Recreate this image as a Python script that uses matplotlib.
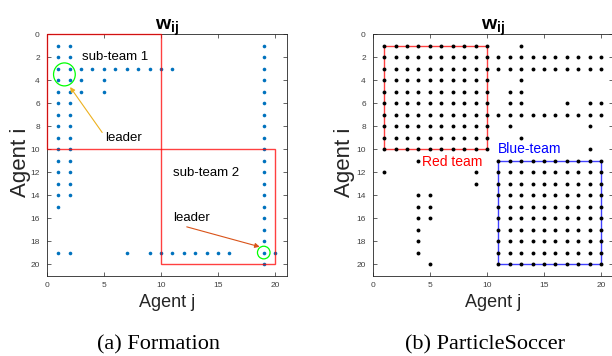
import matplotlib.pyplot as plt
from matplotlib.patches import Rectangle, Ellipse

plt.rcParams['font.family'] = ['Liberation Sans', 'DejaVu Sans']
plt.rcParams['mathtext.fontset'] = 'custom'
plt.rcParams['mathtext.bf'] = 'Liberation Sans:bold'
plt.rcParams['mathtext.rm'] = 'Liberation Sans'

# ---- (a) Formation: nonzero w_ij entries as (agent j, agent i)
form_j = ([1] * 15 + [2] * 14
          + [3, 4, 5, 6, 7, 8, 9, 10, 11]
          + [3, 5, 3, 5]
          + [19] * 20
          + [1, 2, 7, 9, 10, 11, 12, 13, 14, 15, 16, 20])
form_i = (list(range(1, 16)) + list(range(1, 15))
          + [3] * 9
          + [4, 4, 5, 5]
          + list(range(1, 21))
          + [19] * 12)
form_teams = [(0, 0, 10, 10), (10, 10, 20, 20)]   # (j0, i0, j1, i1)
form_leaders = [(1.55, 3.5, 1.9, 2.0), (19, 19, 1.1, 1.1)]  # centre j, i, width, height

# ---- (b) ParticleSoccer
red_team = list(range(1, 11))
blue_team = list(range(11, 21))
extra_rows = {
    1: [13], 2: list(range(11, 21)), 3: list(range(11, 21)), 4: [13],
    5: [12, 13], 6: [12, 13, 17, 19, 20], 7: list(range(11, 21)),
    8: [12, 19], 9: [13], 10: [19], 11: [4], 12: [1, 9], 13: [9],
    14: [4, 5], 15: [4, 5], 16: [4, 5], 17: [4], 18: [4], 19: [4], 20: [5],
}
soc_j, soc_i = [], []
for team in (red_team, blue_team):
    for i in team:
        for j in team:
            soc_j.append(j)
            soc_i.append(i)
for i, js in extra_rows.items():
    for j in js:
        soc_j.append(j)
        soc_i.append(i)

fig = plt.figure(figsize=(6.12, 3.56), dpi=100)
ax1 = fig.add_axes([0.0763, 0.226, 0.392, 0.678])
ax2 = fig.add_axes([0.609, 0.226, 0.392, 0.678])


def style(ax):
    ax.set_xlim(0, 21)
    ax.set_ylim(21, 0)
    ax.set_xticks([0, 5, 10, 15, 20])
    ax.set_yticks(range(0, 21, 2))
    ax.tick_params(direction='in', top=True, right=True, length=3, width=0.5,
                   labelsize=6, labelcolor='#404040', color='#262626', pad=5)
    for s in ax.spines.values():
        s.set_linewidth(0.6)
        s.set_color('#262626')
    ax.set_title(r'$\mathbf{w}_{\mathbf{ij}}$', fontsize=14, pad=3)
    ax.set_xlabel('Agent j', fontsize=13, color='#262626')
    ax.set_ylabel('Agent i', fontsize=16, color='#262626')
    ax.xaxis.set_label_coords(0.5, -0.075)


style(ax1)
style(ax2)
ax1.yaxis.set_label_coords(-0.065, 0.47)
ax2.yaxis.set_label_coords(-0.074, 0.47)

# (a)
ax1.plot(form_j, form_i, 'o', color='#0072BD', markersize=2.6, markeredgewidth=0)
for j0, i0, j1, i1 in form_teams:
    ax1.add_patch(Rectangle((j0, i0), j1 - j0, i1 - i0, fill=False, edgecolor='#ff0000',
                            alpha=0.75, linewidth=1.0, clip_on=False, zorder=3))
for cj, ci, w, h in form_leaders:
    ax1.add_patch(Ellipse((cj, ci), w, h, fill=False, edgecolor='#00ff00', linewidth=0.9))
ax1.text(3.1, 2.0, 'sub-team 1', fontsize=9.5, va='center')
ax1.text(11.05, 12.05, 'sub-team 2', fontsize=9.5, va='center')
ax1.annotate('leader', xy=(2.05, 4.6), xytext=(5.1, 9.0), fontsize=9.5, va='center',
             arrowprops=dict(arrowstyle='-|>', color='#EDB120', lw=0.8,
                             shrinkA=0, shrinkB=0, mutation_scale=7,
                             relpos=(0.0, 0.6)))
ax1.annotate('leader', xy=(18.65, 18.5), xytext=(11.05, 16.0), fontsize=9.5, va='center',
             arrowprops=dict(arrowstyle='-|>', color='#D95319', lw=0.8,
                             shrinkA=0, shrinkB=0, mutation_scale=7,
                             relpos=(0.1, 0.0)))

# (b)
ax2.plot(soc_j, soc_i, 'o', color='black', markersize=2.8, markeredgewidth=0)
ax2.add_patch(Rectangle((red_team[0], red_team[0]), red_team[-1] - red_team[0],
                        red_team[-1] - red_team[0], fill=False, edgecolor='#ff0000',
                        alpha=0.75, linewidth=1.0))
ax2.add_patch(Rectangle((blue_team[0], blue_team[0]), blue_team[-1] - blue_team[0],
                        blue_team[-1] - blue_team[0], fill=False, edgecolor='#0000ff',
                        alpha=0.75, linewidth=1.0))
ax2.text(4.3, 11.1, 'Red team', fontsize=10, color='#ff0000', va='center')
ax2.text(11.0, 10.0, 'Blue-team', fontsize=10, color='#0000ff', va='center')

fig.text(158 / 612, 7 / 356, '(a) Formation', fontsize=16, family='Liberation Serif',
         ha='center', va='baseline')
fig.text(485 / 612, 7 / 356, '(b) ParticleSoccer', fontsize=16, family='Liberation Serif',
         ha='center', va='baseline')

fig.savefig('out.png', dpi=100)
